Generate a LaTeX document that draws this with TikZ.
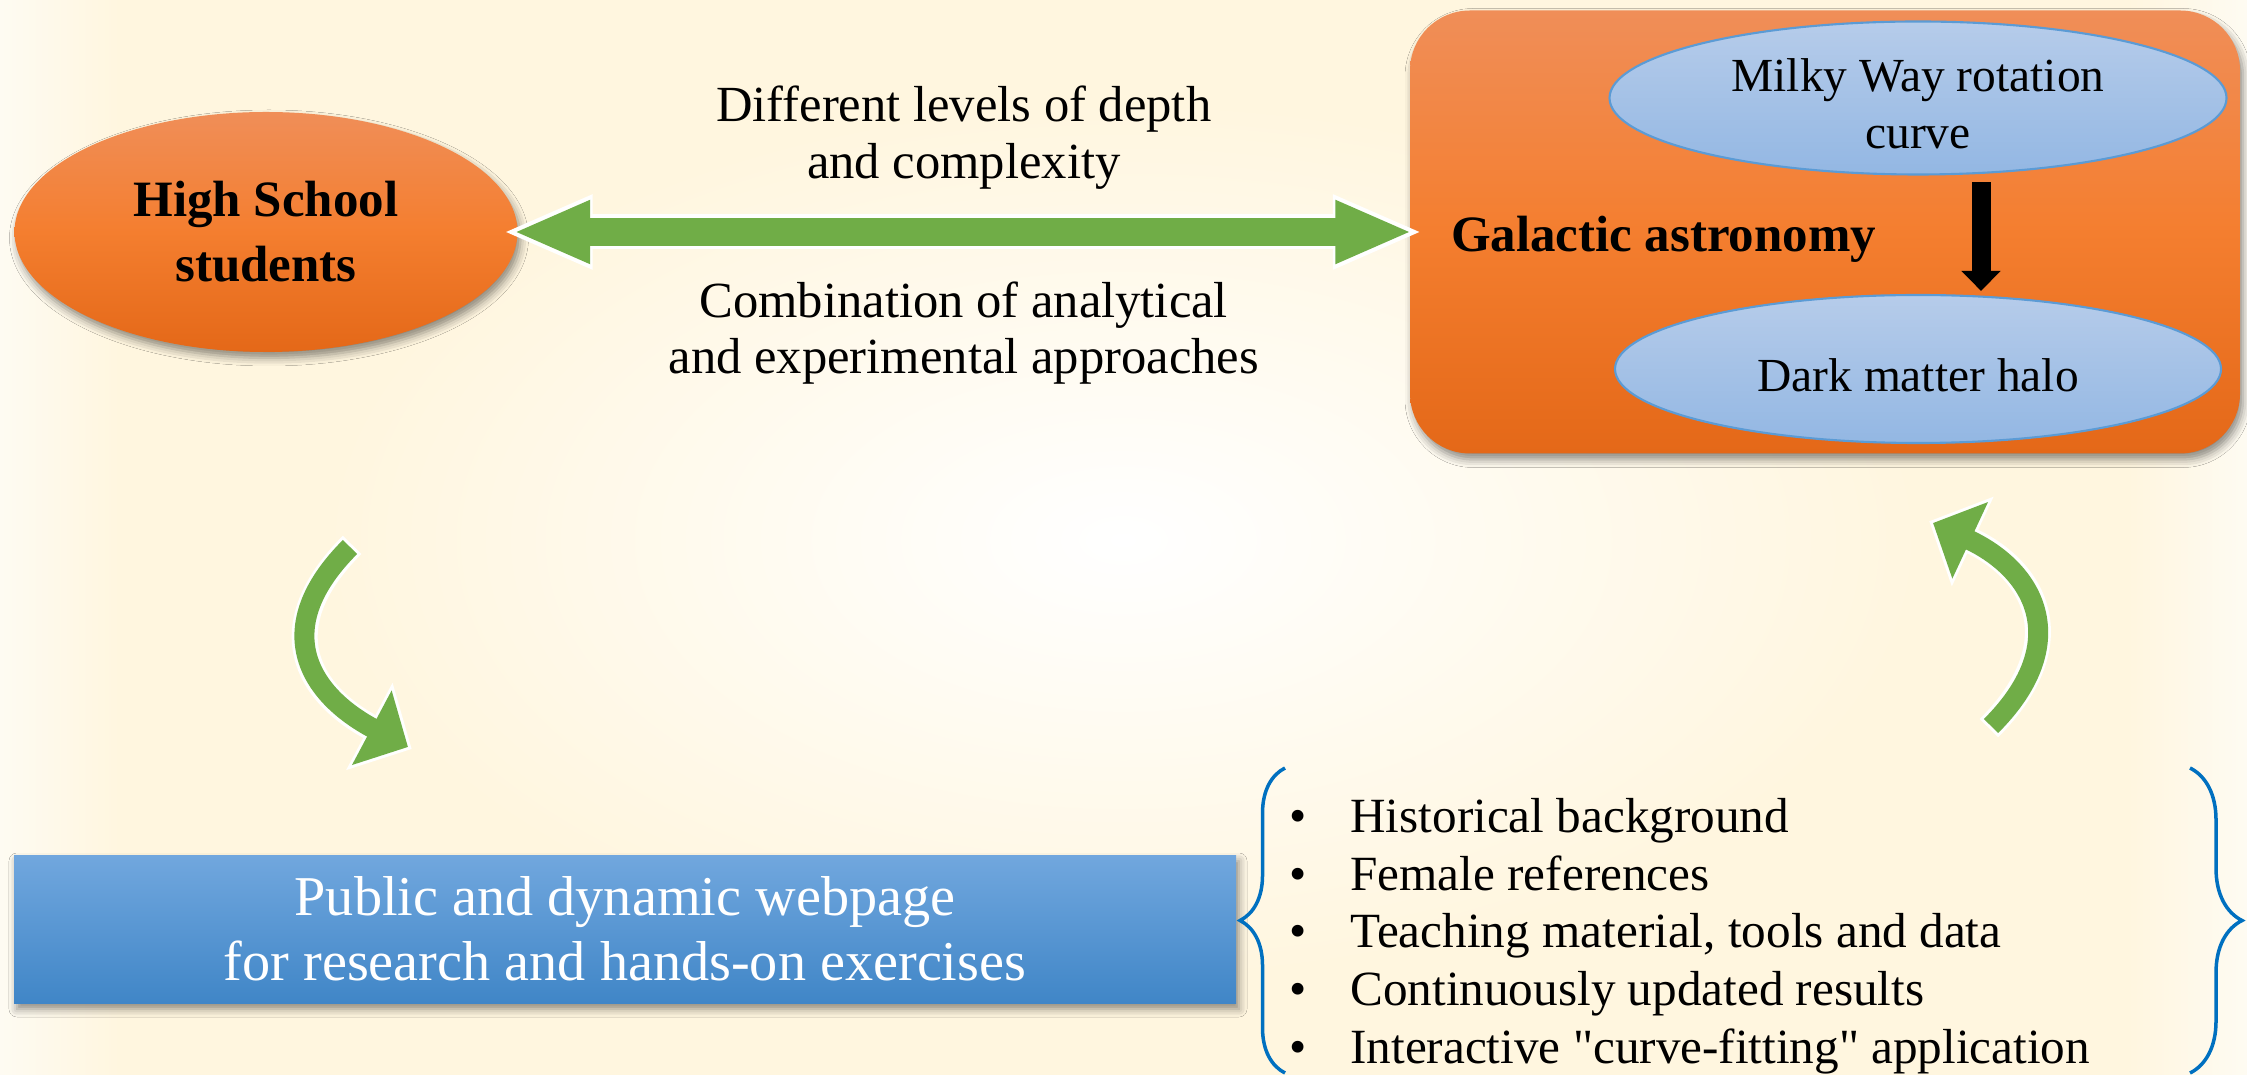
\documentclass[tikz,border=0pt]{standalone}
\usepackage{fontspec}
\setmainfont{Liberation Serif}[Ligatures=TeXOff]
\usetikzlibrary{positioning, arrows.meta, shapes.geometric, shadows.blur, decorations.pathreplacing}

\definecolor{cream}{RGB}{255,246,223}
\definecolor{creamlight}{RGB}{254,251,242}
\definecolor{orangetop}{RGB}{240,142,88}
\definecolor{orangemid}{RGB}{244,126,47}
\definecolor{orangebot}{RGB}{228,104,24}
\definecolor{bluetop}{RGB}{182,204,234}
\definecolor{bluebot}{RGB}{147,183,227}
\definecolor{blueline}{RGB}{91,155,213}
\definecolor{webtop}{RGB}{113,167,222}
\definecolor{webbot}{RGB}{64,134,199}
\definecolor{arrowgreen}{RGB}{112,173,71}
\definecolor{bracecol}{RGB}{0,112,192}

\newcommand{\featbullet}{\makebox[0.61cm][l]{\textbullet}}
\newcommand{\sinkline}[1]{\raisebox{-0.06cm}[\height][\depth]{#1}} % nudges a line down inside its node

\tikzset{
node distance=3cm, % default spacing, most nodes set their own
orangeshade/.style={top color=orangetop, bottom color=orangebot, middle color=orangemid}, % warm gradient of the two big shapes
softshadow/.style={blur shadow={shadow xshift=0.03cm, shadow yshift=-0.06cm, shadow blur radius=0.08cm, shadow opacity=45}},
student/.style={ellipse, orangeshade, softshadow, minimum width=5.03cm, minimum height=2.40cm, inner sep=0pt, align=center, font=\fontsize{14.5}{18.5}\selectfont\bfseries},
field/.style={rectangle, rounded corners=0.6cm, orangeshade, softshadow, minimum width=8.30cm, minimum height=4.43cm},
topic/.style={ellipse, draw=blueline, line width=0.6pt, top color=bluetop, bottom color=bluebot, inner sep=0pt, align=center, font=\fontsize{13.5}{16.2}\selectfont},
webbox/.style={rectangle, top color=webtop, bottom color=webbot, softshadow, minimum width=12.22cm, minimum height=1.48cm, align=center, text=white, font=\fontsize{16}{18.5}\selectfont},
note/.style={align=center, inner sep=0pt, font=\fontsize{14.4}{16}\selectfont},
featlist/.style={align=left, inner sep=0pt, font=\fontsize{14}{16.4}\selectfont},
rim/.style={draw=white}, % white border under the green arrows
green/.style={draw=arrowgreen},
curly/.style={draw=bracecol, line width=0.035cm, decorate},
}

\begin{document}
\begin{tikzpicture}
                \useasboundingbox (0,0) rectangle (22.47,-10.75);
                \fill[cream] (0,0) rectangle (22.47,-10.75);
                \shade[left color=creamlight, right color=cream] (0,0) rectangle (1.2,-10.75);
                \shade[left color=cream, right color=creamlight] (21.27,0) rectangle (22.47,-10.75);
                \shade[inner color=white, outer color=cream] (11.23,-5.4) ellipse (8cm and 4.4cm);

                \node[student] (hs) at (2.66,-2.32) {High School\\students};
                \node[field, right of=hs, node distance=15.59cm] (gal) {};
                \node[font=\fontsize{14.5}{17}\selectfont\bfseries, inner sep=0pt, right=0.41cm of gal.west, yshift=-0.07cm] (galtxt) {Galactic astronomy};
                \node[topic, minimum width=6.17cm, minimum height=1.53cm, above of=gal, node distance=1.34cm, xshift=0.93cm] (mw) {\sinkline{Milky Way rotation}\\\sinkline{curve}};
                \node[topic, minimum width=6.06cm, minimum height=1.48cm, below of=mw, node distance=2.71cm] (dm) {\sinkline{Dark matter halo}};
                \node[webbox, below of=hs, node distance=6.97cm, xshift=3.59cm] (web) {Public and dynamic webpage\\for research and hands-on exercises};
                \node[featlist, right=0.52cm of web, yshift=-0.07cm] (feat) {\featbullet Historical background\\
                    \featbullet Female references\\
                    \featbullet Teaching material, tools and data\\
                    \featbullet Continuously updated results\\
                    \featbullet Interactive "curve-fitting" application};

                \coordinate (cl1) at (3.50,-5.47);
                \coordinate (cl2) at (4.08,-7.47);
                \coordinate (cr1) at (19.91,-7.26);
                \coordinate (cr2) at (19.33,-5.23);

                \draw (hs) edge[rim, line width=0.35cm, {Triangle[length=0.905cm, width=0.68cm]}-{Triangle[length=0.905cm, width=0.68cm]}, shorten <=-0.16cm, shorten >=-0.14cm] (gal);
                \draw (hs) edge[green, line width=0.28cm, {Triangle[length=0.77cm, width=0.58cm]}-{Triangle[length=0.77cm, width=0.58cm]}, shorten <=-0.05cm, shorten >=-0.03cm]
                    node[note, above=0.29cm] (lvl) {Different levels of depth\\and complexity}
                    node[note, below=0.36cm] (mix) {Combination of analytical\\and experimental approaches} (gal);
                \draw[line width=0.19cm, -{Triangle[length=0.2cm, width=0.38cm]}] ([xshift=0.63cm, yshift=-0.065cm]mw.south) -- ([xshift=0.63cm, yshift=0.03cm]dm.north);

                \draw[rim, line width=0.26cm, -{Triangle[length=0.48cm, width=0.96cm]}, shorten <=-0.03cm, shorten >=-0.042cm] (cl1) to[out=225, in=152, looseness=1.4] (cl2);
                \draw[green, line width=0.2cm, -{Triangle[length=0.41cm, width=0.82cm]}] (cl1) to[out=225, in=152, looseness=1.4] (cl2);
                \draw[rim, line width=0.26cm, -{Triangle[length=0.48cm, width=0.96cm]}, shorten <=-0.03cm, shorten >=-0.042cm] (cr1) to[out=45, in=335, looseness=1.4] (cr2);
                \draw[green, line width=0.2cm, -{Triangle[length=0.41cm, width=0.82cm]}] (cr1) to[out=45, in=335, looseness=1.4] (cr2);

                \draw[curly, decoration={brace, amplitude=0.45cm}] (12.85,-10.73) -- (12.85,-7.68);
                \draw[curly, decoration={brace, amplitude=0.52cm}] (21.90,-7.68) -- (21.90,-10.73);
            \end{tikzpicture}
\end{document}
